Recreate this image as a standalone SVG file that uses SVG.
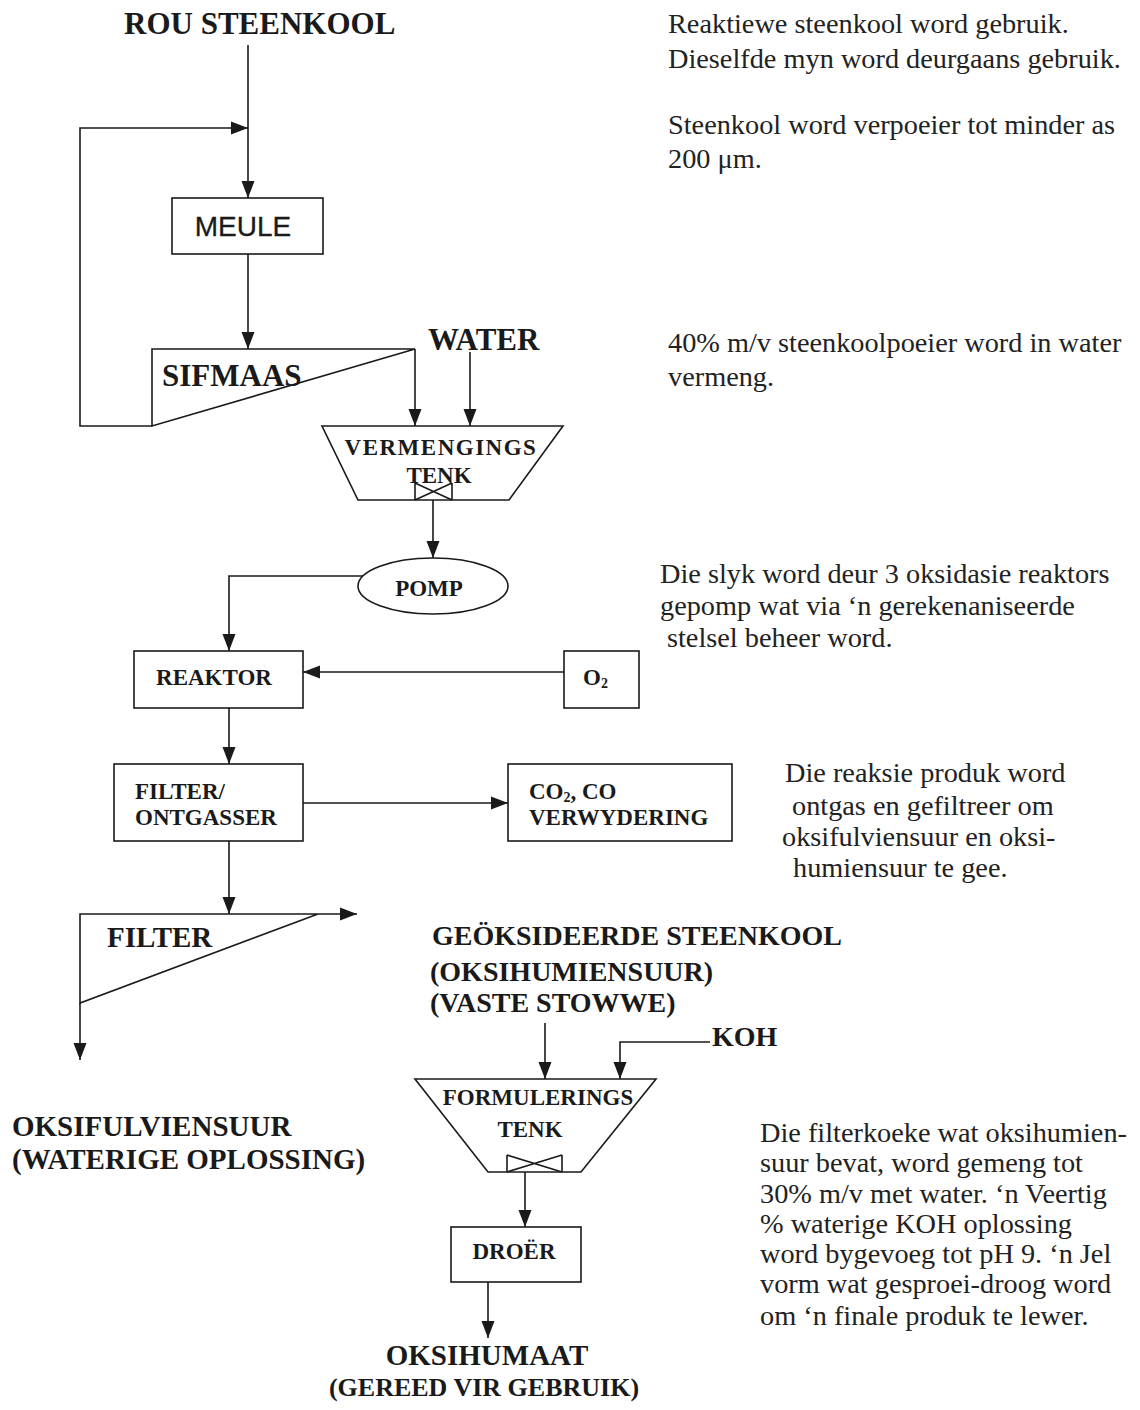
<svg xmlns="http://www.w3.org/2000/svg" width="1140" height="1410" viewBox="0 0 1140 1410">
<style>
.ln{fill:none;stroke:#1a1a1a;stroke-width:1.6}
.shp{fill:#fff;stroke:#1a1a1a;stroke-width:1.6}
.big{font-family:"Liberation Serif","Times New Roman",serif;font-weight:bold;font-size:31px;fill:#1a1a1a}
.big2{font-family:"Liberation Serif","Times New Roman",serif;font-weight:bold;font-size:29px;fill:#1a1a1a}
.lbl{font-family:"Liberation Serif","Times New Roman",serif;font-weight:bold;font-size:23px;fill:#1a1a1a}
.note{font-family:"Liberation Serif","Times New Roman",serif;font-size:28.3px;fill:#222}
.sans{font-family:"Liberation Sans",Arial,sans-serif;font-size:28px;fill:#1a1a1a;stroke:#1a1a1a;stroke-width:0.3}
</style>
<defs>
<marker id="ah" markerWidth="17" markerHeight="14" refX="17" refY="7" orient="auto" markerUnits="userSpaceOnUse"><path d="M0,0.5 L17,7 L0,13.5 z" fill="#1a1a1a"/></marker>
</defs>
<rect width="1140" height="1410" fill="#fff"/>

<g id="connectors" class="ln" marker-end="url(#ah)">
<path d="M248,45 V198"/>
<path d="M152,426 H80 V128 H248"/>
<path d="M248,254 V349"/>
<path d="M415,349 V426"/>
<path d="M470,352 V426"/>
<path d="M433,500 V558"/>
<path d="M363,576 H229 V651"/>
<path d="M564,672 H303"/>
<path d="M229,708 V764"/>
<path d="M303,803 H508"/>
<path d="M229,841 V914"/>
<path d="M318,914 H357"/>
<path d="M80,1003 V1060"/>
<path d="M545,1023 V1079"/>
<path d="M710,1042 H620 V1079"/>
<path d="M525,1172 V1227"/>
<path d="M488,1282 V1338"/>
</g>

<g id="rou-steenkool"><text class="big" x="124" y="34">ROU STEENKOOL</text></g>
<g id="meule"><rect class="shp" x="172" y="198" width="151" height="56"/><text class="sans" x="243" y="236" text-anchor="middle">MEULE</text></g>
<g id="sifmaas"><path class="shp" d="M152,349 H415 L152,426 Z"/><text class="big" x="162" y="386">SIFMAAS</text></g>
<g id="water"><text class="big" x="428" y="350">WATER</text></g>
<g id="vermengings-tenk">
<path class="shp" d="M322,426 H563 L509,500 H358 Z"/>
<text class="lbl" x="441" y="455" text-anchor="middle" style="letter-spacing:1.5px">VERMENGINGS</text>
<text class="lbl" x="439" y="483" text-anchor="middle">TENK</text>
<path class="ln" d="M415,483 V500 M452,483 V500 M415,483 L452,500 M415,500 L452,483"/>
</g>
<g id="pomp"><ellipse class="shp" cx="433" cy="586" rx="75" ry="28"/><text class="lbl" x="429" y="596" text-anchor="middle">POMP</text></g>
<g id="reaktor"><rect class="shp" x="134" y="651" width="169" height="57"/><text class="lbl" x="214" y="685" text-anchor="middle">REAKTOR</text></g>
<g id="o2"><rect class="shp" x="564" y="651" width="75" height="57"/><text class="lbl" x="583" y="685">O<tspan style="font-size:14px" dy="3">2</tspan></text></g>
<g id="filter-ontgasser"><rect class="shp" x="114" y="764" width="189" height="77"/><text class="lbl" x="135" y="799">FILTER/</text><text class="lbl" x="135" y="825">ONTGASSER</text></g>
<g id="co2-verwydering"><rect class="shp" x="508" y="764" width="224" height="77"/><text class="lbl" x="529" y="799">CO<tspan style="font-size:14px" dy="3">2</tspan><tspan dy="-3">, CO</tspan></text><text class="lbl" x="529" y="825">VERWYDERING</text></g>
<g id="filter"><path class="shp" d="M80,914 H318 L80,1003 Z"/><text class="big2" x="107" y="947">FILTER</text></g>
<g id="geoksideerde-steenkool">
<text class="big2" x="432" y="945" style="font-size:28px">GEÖKSIDEERDE STEENKOOL</text>
<text class="big2" x="430" y="981" style="font-size:28px">(OKSIHUMIENSUUR)</text>
<text class="big2" x="430" y="1012" style="font-size:28px">(VASTE STOWWE)</text>
</g>
<g id="koh"><text class="big2" x="712" y="1046" style="font-size:28px">KOH</text></g>
<g id="oksifulviensuur">
<text class="big2" x="12" y="1136">OKSIFULVIENSUUR</text>
<text class="big2" x="12" y="1169">(WATERIGE OPLOSSING)</text>
</g>
<g id="formulerings-tenk">
<path class="shp" d="M415,1079 H656 L581,1172 H488 Z"/>
<text class="lbl" x="538" y="1105" text-anchor="middle">FORMULERINGS</text>
<text class="lbl" x="530" y="1137" text-anchor="middle">TENK</text>
<path class="ln" d="M507,1155 V1172 M562,1155 V1172 M507,1155 L562,1172 M507,1172 L562,1155"/>
</g>
<g id="droer"><rect class="shp" x="451" y="1227" width="130" height="55"/><text class="lbl" x="514" y="1259" text-anchor="middle">DROËR</text></g>
<g id="oksihumaat">
<text class="big2" x="487" y="1365" text-anchor="middle">OKSIHUMAAT</text>
<text class="big2" x="484" y="1396" text-anchor="middle" style="font-size:26px">(GEREED VIR GEBRUIK)</text>
</g>

<g id="notes">
<text class="note" x="668" y="33">Reaktiewe steenkool word gebruik.</text>
<text class="note" x="668" y="68">Dieselfde myn word deurgaans gebruik.</text>
<text class="note" x="668" y="134">Steenkool word verpoeier tot minder as</text>
<text class="note" x="668" y="168">200 μm.</text>
<text class="note" x="668" y="352">40% m/v steenkoolpoeier word in water</text>
<text class="note" x="668" y="386">vermeng.</text>
<text class="note" x="660" y="583">Die slyk word deur 3 oksidasie reaktors</text>
<text class="note" x="660" y="615">gepomp wat via ‘n gerekenaniseerde</text>
<text class="note" x="667" y="647">stelsel beheer word.</text>
<text class="note" x="785" y="782">Die reaksie produk word</text>
<text class="note" x="792" y="815">ontgas en gefiltreer om</text>
<text class="note" x="782" y="846">oksifulviensuur en oksi-</text>
<text class="note" x="793" y="877">humiensuur te gee.</text>
<text class="note" x="760" y="1142">Die filterkoeke wat oksihumien-</text>
<text class="note" x="760" y="1172">suur bevat, word gemeng tot</text>
<text class="note" x="760" y="1203">30% m/v met water. ‘n Veertig</text>
<text class="note" x="760" y="1233">% waterige KOH oplossing</text>
<text class="note" x="760" y="1263">word bygevoeg tot pH 9.  ‘n Jel</text>
<text class="note" x="760" y="1293">vorm wat gesproei-droog word</text>
<text class="note" x="760" y="1325">om ‘n finale produk te lewer.</text>
</g>
</svg>
